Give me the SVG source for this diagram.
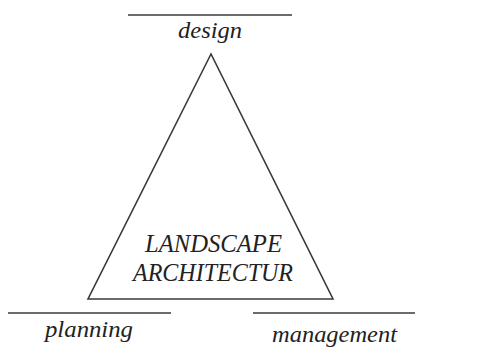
<svg xmlns="http://www.w3.org/2000/svg" width="492" height="356" viewBox="0 0 492 356">
<style>
.ln{stroke:#3a3a3a;stroke-width:1.6;fill:none}
.t{font-family:"Liberation Serif","Times New Roman",serif;font-style:italic;fill:#222;font-size:23px}
.c{font-size:25px}
</style>
<rect width="492" height="356" fill="#fff"/>
<g id="connectors">
<line class="ln" x1="128" y1="15" x2="292" y2="15"/>
<line class="ln" x1="8" y1="313" x2="171" y2="313"/>
<line class="ln" x1="253" y1="313" x2="415" y2="313"/>
</g>
<g id="triangle">
<polygon class="ln" points="211,54 88,299 333,299"/>
<text class="t c" x="145" y="252" textLength="137" lengthAdjust="spacingAndGlyphs">LANDSCAPE</text>
<text class="t c" x="133" y="281" textLength="160" lengthAdjust="spacingAndGlyphs">ARCHITECTUR</text>
</g>
<g id="design"><text class="t" x="178" y="38" textLength="64" lengthAdjust="spacingAndGlyphs">design</text></g>
<g id="planning"><text class="t" x="45" y="337" textLength="88" lengthAdjust="spacingAndGlyphs">planning</text></g>
<g id="management"><text class="t" x="272" y="342" textLength="125" lengthAdjust="spacingAndGlyphs">management</text></g>
</svg>
